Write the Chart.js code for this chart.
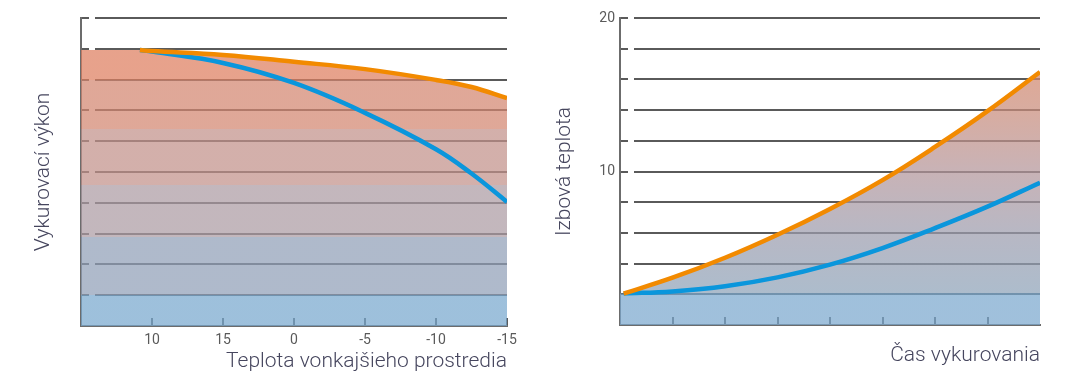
<!DOCTYPE html>
<html><head><meta charset="utf-8">
<script src="https://cdn.jsdelivr.net/npm/chart.js@4/dist/chart.umd.min.js"></script>
<style>
html,body{margin:0;padding:0;background:#fff;width:1073px;height:372px;overflow:hidden}
#l{position:absolute;left:0;top:0;width:536px;height:372px}
#r{position:absolute;left:536px;top:0;width:537px;height:372px}
</style></head><body>
<div id="l"><canvas id="c1"></canvas></div>
<div id="r"><canvas id="c2"></canvas></div>
<script>
// ---------- Left chart: heating output vs outdoor temperature ----------
const outdoorLabels = ['10', '15', '0', '-5', '-10', '-15'];
const outdoorX      = [-0.17, 0, 1, 2, 3, 4, 4.5, 5];
const outputOrange  = [8.96, 8.93, 8.80, 8.58, 8.34, 7.99, 7.76, 7.40];
const outputBlue    = [8.96, 8.91, 8.54, 7.89, 6.92, 5.74, 4.95, 4.03];

// ---------- Right chart: room temperature vs heating time ----------
const timeX       = [0.07, 1, 2, 3, 4, 5, 6, 7, 8];
const roomOrange  = [2.05, 3.08, 4.38, 5.88, 7.56, 9.44, 11.6, 13.93, 16.48];
const roomBlue    = [2.05, 2.19, 2.52, 3.10, 3.93, 5.01, 6.31, 7.71, 9.27];
const roomTickLabels = {10: '10', 20: '20'};

// ---------- styles ----------
const ORANGE = '#f28a00', BLUE = '#0a96dc';
const GRID = '#5a5a5a', AXIS = '#6c6c6c';
const TITLE_COLOR = '#46465e', TICK_COLOR = '#5a5a5a';
const FILL_ALPHA = 0.72;
const leftBandEdges  = [10, 8, 6.4, 4.58, 2.89, 1.0, 0];
const leftBandColors = ['#e7a28c', '#dfa898', '#d3b0ab', '#c3b7bd', '#afbacb', '#9ec0dc'];
const rightStops = [[17, '#e0a894'], [14, '#d8aca0'], [10, '#c8b3b6'], [6, '#b8b8c4'], [2.1, '#adbccc'], [2.05, '#a0c0dc'], [0, '#a0c0dc']];

function overWhite(hex, a) {
  const n = parseInt(hex.slice(1), 16);
  const c = [(n >> 16) & 255, (n >> 8) & 255, n & 255].map(v => Math.max(0, Math.min(255, Math.round((v - 255 * (1 - a)) / a))));
  return `rgba(${c[0]},${c[1]},${c[2]},${a})`;
}
function pts(xs, ys) { return xs.map((x, i) => ({x, y: ys[i]})); }

function bandGradient(context) {
  const chart = context.chart, area = chart.chartArea;
  if (!area) return 'rgba(0,0,0,0)';
  const y = chart.scales.y, top = y.getPixelForValue(10), bot = y.getPixelForValue(0);
  const g = chart.ctx.createLinearGradient(0, top, 0, bot);
  for (let i = 0; i < leftBandColors.length; i++) {
    const c = overWhite(leftBandColors[i], FILL_ALPHA);
    const s = (y.getPixelForValue(leftBandEdges[i]) - top) / (bot - top);
    const e = (y.getPixelForValue(leftBandEdges[i + 1]) - top) / (bot - top);
    g.addColorStop(Math.min(1, Math.max(0, s + (i ? 0.0005 : 0))), c);
    g.addColorStop(Math.min(1, Math.max(0, e)), c);
  }
  return g;
}
function smoothGradient(context) {
  const chart = context.chart, area = chart.chartArea;
  if (!area) return 'rgba(0,0,0,0)';
  const y = chart.scales.y, top = y.getPixelForValue(20), bot = y.getPixelForValue(0);
  const g = chart.ctx.createLinearGradient(0, top, 0, bot);
  rightStops.forEach(([v, c]) => {
    g.addColorStop(Math.min(1, Math.max(0, (y.getPixelForValue(v) - top) / (bot - top))), overWhite(c, FILL_ALPHA));
  });
  return g;
}

const titleFont = {family: 'Roboto', size: 21, weight: '300', lineHeight: 1};
const tickFont = {family: 'Roboto', size: 14};
const innerTickDash = ctx => {
  const a = ctx.chart.chartArea;
  const h = a ? a.bottom - a.top : 300;
  return [0, Math.max(0, h - 8), 8];
};
const lineDs = (data, color) => ({
  data, borderColor: color, borderWidth: 4.5, pointRadius: 0, fill: false,
  tension: 0.4, borderCapStyle: 'butt'
});

Chart.defaults.font.family = 'Roboto';

new Chart(document.getElementById('c1'), {
  type: 'line',
  data: {
    datasets: [
      lineDs(pts(outdoorX, outputOrange), ORANGE),
      lineDs(pts(outdoorX, outputBlue), BLUE),
      {
        data: [{x: -1, y: outputOrange[0]}].concat(pts(outdoorX, outputOrange)),
        borderWidth: 0, pointRadius: 0, fill: 'origin',
        backgroundColor: bandGradient, tension: 0.4
      }
    ]
  },
  options: {
    responsive: true, maintainAspectRatio: false, animation: false,
    layout: {padding: {left: 20, top: 18, right: 29, bottom: 0}},
    plugins: {legend: {display: false}, tooltip: {enabled: false}},
    scales: {
      x: {
        type: 'linear', min: -1, max: 5,
        ticks: {stepSize: 1, autoSkip: false, maxRotation: 0, padding: 6, color: TICK_COLOR, font: tickFont,
                callback: v => (v >= 0 && v < outdoorLabels.length ? outdoorLabels[v] : '')},
        grid: {color: c => (c.tick && c.tick.value < 0 ? 'rgba(0,0,0,0)' : GRID), lineWidth: 2, drawTicks: false},
        border: {color: AXIS, width: 2, dash: innerTickDash},
        title: {display: true, text: 'Teplota vonkajšieho prostredia', align: 'end', color: TITLE_COLOR, font: titleFont, padding: {top: 0, bottom: 0}},
        afterFit: s => { s.height = 46; }
      },
      y: {
        min: 0, max: 10,
        ticks: {stepSize: 1, display: false},
        grid: {color: GRID, lineWidth: 2, drawTicks: false},
        border: {color: AXIS, width: 2, dash: [7, 6, 4000]},
        title: {display: true, text: 'Vykurovací výkon', color: TITLE_COLOR, font: titleFont, padding: {top: 13.5, bottom: 0}},
        afterFit: s => { s.width = 61; }
      }
    }
  }
});

new Chart(document.getElementById('c2'), {
  type: 'line',
  data: {
    datasets: [
      lineDs(pts(timeX, roomOrange), ORANGE),
      lineDs(pts(timeX, roomBlue), BLUE),
      {
        data: [{x: 0, y: roomOrange[0]}].concat(pts(timeX, roomOrange)),
        borderWidth: 0, pointRadius: 0, fill: 'origin',
        backgroundColor: smoothGradient, tension: 0.4
      }
    ]
  },
  options: {
    responsive: true, maintainAspectRatio: false, animation: false,
    layout: {padding: {left: 10, top: 18, right: 33, bottom: 0}},
    plugins: {legend: {display: false}, tooltip: {enabled: false}},
    scales: {
      x: {
        type: 'linear', min: 0, max: 8,
        ticks: {stepSize: 1, display: false},
        grid: {color: c => (c.tick && (c.tick.value <= 0 || c.tick.value >= 8) ? 'rgba(0,0,0,0)' : GRID), lineWidth: 2, drawTicks: false},
        border: {color: AXIS, width: 2, dash: innerTickDash},
        title: {display: true, text: 'Čas vykurovania', align: 'end', color: TITLE_COLOR, font: titleFont, padding: {top: 0, bottom: 5.5}},
        afterFit: s => { s.height = 47; }
      },
      y: {
        min: 0, max: 20,
        ticks: {stepSize: 2, autoSkip: false, padding: 5, color: TICK_COLOR, font: tickFont,
                callback: v => roomTickLabels[v] || ''},
        grid: {color: GRID, lineWidth: 2, drawTicks: false},
        border: {color: AXIS, width: 2, dash: [7, 6, 4000]},
        title: {display: true, text: 'Izbová teplota', color: TITLE_COLOR, font: titleFont, padding: {top: 8.5, bottom: 0}},
        afterFit: s => { s.width = 74; }
      }
    }
  }
});
</script>
</body></html>
